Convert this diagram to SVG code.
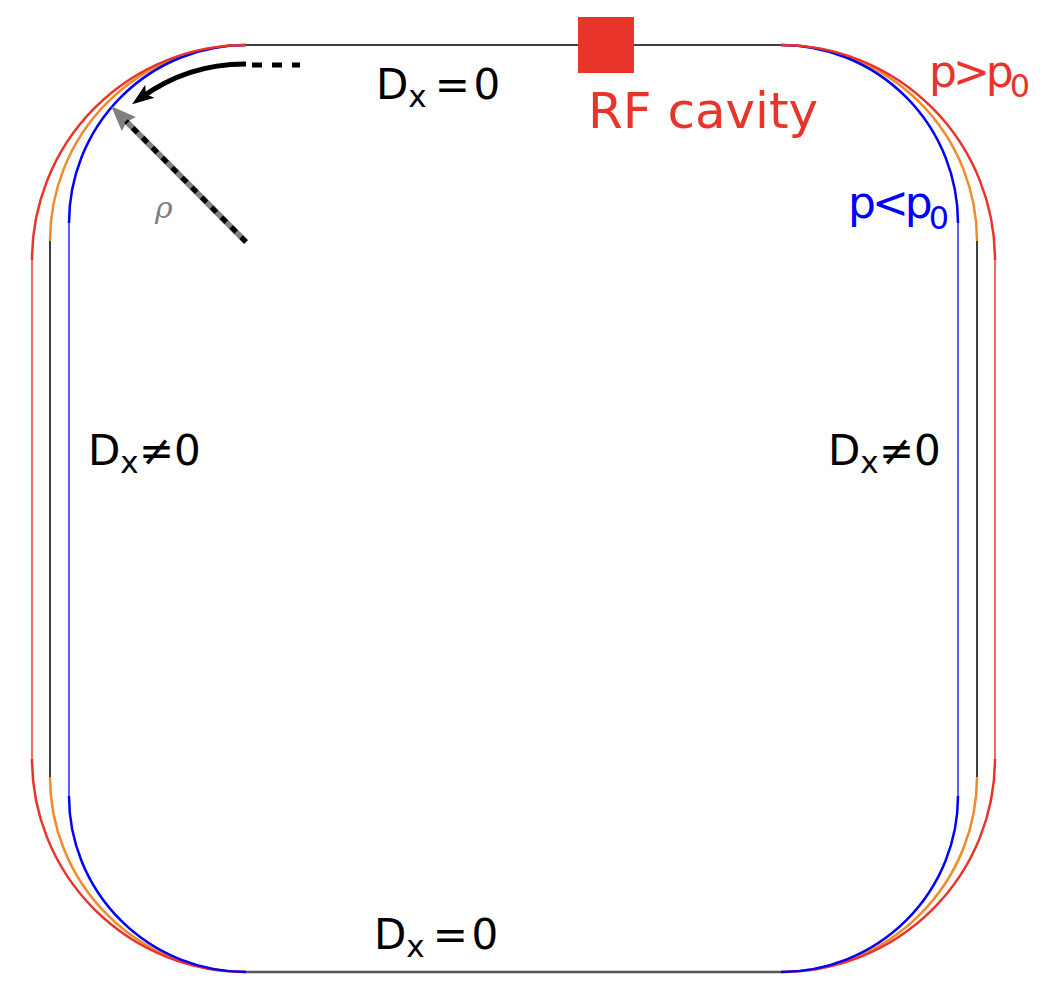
<svg xmlns="http://www.w3.org/2000/svg" width="1062" height="994" viewBox="0 0 1062 994">
<style>
.lbl{font-family:"DejaVu Sans","Liberation Sans",sans-serif;font-size:42px;fill:#000}
.sub{font-size:31px}
.plbl{font-size:44px;letter-spacing:-4px}
.psub{font-size:32px}
.red{fill:#e8342a}
.blue{fill:#0000ff}
.arcR{fill:none;stroke:#e8342a;stroke-width:2.5}
.arcO{fill:none;stroke:#f08a2c;stroke-width:2.5}
.arcB{fill:none;stroke:#0000ff;stroke-width:2.5}
.strR{fill:none;stroke:#e8342a;stroke-opacity:0.8;stroke-width:1.8}
.strB{fill:none;stroke:#0000ff;stroke-opacity:0.7;stroke-width:1.8}
.strK{fill:none;stroke:#000;stroke-width:1.5}
</style>
<defs>
<marker id="blackHead" markerUnits="userSpaceOnUse" markerWidth="26" markerHeight="20" viewBox="0 0 26 20" refX="11" refY="10" orient="auto">
<path d="M0,2 L22,10 L0,18 L5,10 Z" fill="#000"/>
</marker>
<marker id="greyHead" markerUnits="userSpaceOnUse" markerWidth="30" markerHeight="22" viewBox="0 0 30 22" refX="12" refY="11" orient="auto">
<path d="M0,1 L25,11 L0,21 L3,11 Z" fill="#808080"/>
</marker>
</defs>

<g id="ring">
<line x1="246" y1="45" x2="781" y2="45" stroke="#000" stroke-width="1.5"/>
<line x1="246" y1="972" x2="781" y2="972" stroke="#555" stroke-width="2.5"/>
<line class="strR" x1="32" y1="260" x2="32" y2="759"/>
<line class="strK" x1="50" y1="241" x2="50" y2="777"/>
<line class="strB" x1="69" y1="223" x2="69" y2="796"/>
<line class="strB" x1="958" y1="223" x2="958" y2="796"/>
<line class="strK" x1="977" y1="241" x2="977" y2="777"/>
<line class="strR" x1="995" y1="260" x2="995" y2="759"/>
<path class="arcO" d="M246 45 A196 196 0 0 0 50 241"/>
<path class="arcB" d="M246 45 A177 178 0 0 0 69 223"/>
<path class="arcR" d="M246 45 A214 215 0 0 0 32 260"/>
<path class="arcO" d="M781 45 A196 196 0 0 1 977 241"/>
<path class="arcB" d="M781 45 A177 178 0 0 1 958 223"/>
<path class="arcR" d="M781 45 A214 215 0 0 1 995 260"/>
<path class="arcO" d="M50 777 A196 195 0 0 0 246 972"/>
<path class="arcR" d="M32 759 A214 213 0 0 0 246 972"/>
<path class="arcB" d="M69 796 A177 176 0 0 0 246 972"/>
<path class="arcO" d="M977 777 A196 195 0 0 1 781 972"/>
<path class="arcR" d="M995 759 A214 213 0 0 1 781 972"/>
<path class="arcB" d="M958 796 A177 176 0 0 1 781 972"/>
</g>

<g id="rf-cavity">
<rect x="578" y="17" width="56" height="56" fill="#e8342a"/>
<text class="lbl red" x="588" y="128" style="font-size:50px">RF cavity</text>
</g>

<g id="connectors">
<line x1="252" y1="65" x2="300" y2="65" stroke="#000" stroke-width="5" stroke-dasharray="10 10"/>
<path d="M246 64 A177 177 0 0 0 141 97.8" fill="none" stroke="#000" stroke-width="5" marker-end="url(#blackHead)"/>
<line x1="246" y1="242" x2="120.4" y2="115.5" stroke="#808080" stroke-width="6" marker-end="url(#greyHead)"/>
<line x1="246" y1="242" x2="126" y2="121" stroke="#000" stroke-width="5" stroke-dasharray="7 7"/>
</g>

<g id="labels">
<text x="155" y="218" font-family="'DejaVu Serif','Liberation Serif',serif" font-style="italic" font-size="30" fill="#808080">ρ</text>
<text class="lbl" x="376" y="99">D<tspan class="sub" dy="8">x</tspan><tspan dx="8" dy="-8">=</tspan><tspan dx="3.5">0</tspan></text>
<text class="lbl" x="374" y="949">D<tspan class="sub" dy="8">x</tspan><tspan dx="8" dy="-8">=</tspan><tspan dx="3.5">0</tspan></text>
<text class="lbl" x="88" y="465">D<tspan class="sub" dy="8">x</tspan><tspan dy="-8">≠</tspan><tspan>0</tspan></text>
<text class="lbl" x="828" y="465">D<tspan class="sub" dy="8">x</tspan><tspan dy="-8">≠</tspan><tspan>0</tspan></text>
<text class="lbl plbl red" x="929" y="87">p&gt;p<tspan class="psub" dy="10">0</tspan></text>
<text class="lbl plbl blue" x="848" y="218">p&lt;p<tspan class="psub" dy="11">0</tspan></text>
</g>
</svg>
